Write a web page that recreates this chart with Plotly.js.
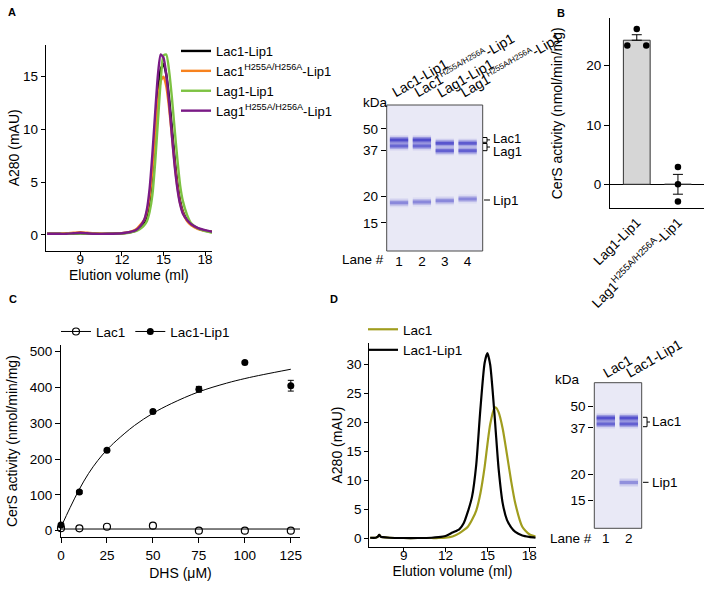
<!DOCTYPE html>
<html><head><meta charset="utf-8">
<script src="https://cdn.plot.ly/plotly-3.0.1.min.js"></script>
<style>html,body{margin:0;padding:0;background:#fff}#chart{width:709px;height:590px}</style>
</head><body><div id="chart"></div>
<script>
// ---------- Panel A: size-exclusion chromatograms ----------
const elutionA = [6.6, 7.5, 8.0, 8.5, 9.0, 9.5, 10.0, 11.0, 12.0, 12.5, 13.0, 13.3, 13.6, 13.8, 14.0, 14.2, 14.4, 14.6, 14.8, 15.0, 15.2, 15.4, 15.6, 15.8, 16.0, 16.2, 16.4, 16.7, 17.0, 17.5, 18.0, 18.5];
const a280LacLip1    = [0.1,0.1,0.1,0.12,0.15,0.12,0.1,0.1,0.15,0.22,0.4,0.7,1.1,1.8,3.3,5.9,9.5,13.2,15.7,16.2,15.2,13.0,10.2,7.3,4.9,3.2,2.2,1.4,1.0,0.6,0.4,0.3];
const a280LacMutLip1 = [0.1,0.12,0.15,0.2,0.25,0.2,0.15,0.1,0.15,0.25,0.5,0.9,1.4,2.2,3.7,6.2,9.4,12.6,14.6,15.0,14.1,12.1,9.5,6.8,4.6,3.0,2.1,1.3,0.9,0.55,0.4,0.3];
const a280LagLip1    = [0.1,0.1,0.1,0.12,0.15,0.12,0.1,0.1,0.12,0.2,0.35,0.55,0.9,1.3,2.2,3.8,6.9,10.8,14.6,17.0,17.1,15.6,13.1,10.1,7.2,4.7,3.2,1.9,1.1,0.6,0.35,0.2];
const a280LagMutLip1 = [0.1,0.1,0.1,0.15,0.2,0.15,0.1,0.1,0.15,0.25,0.45,0.8,1.4,2.4,4.4,7.7,11.6,15.2,17.1,16.8,15.2,12.6,9.5,6.6,4.4,2.9,2.0,1.4,1.0,0.65,0.45,0.3];
const namesA = ['Lac1-Lip1', 'Lac1<sup>H255A/H256A</sup>-Lip1', 'Lag1-Lip1', 'Lag1<sup>H255A/H256A</sup>-Lip1'];

// ---------- Gels (relative mobility, 0 = top of gel) ----------
const markerKDa = ['50', '37', '20', '15'];
const markerRf  = [0.164, 0.311, 0.628, 0.807];
const gelALanes = [1, 2, 3, 4];
const gelALaneLabels = ['Lac1-Lip1', 'Lac1<sup><span style="font-size:8px">H255A/H256A</span></sup>-Lip1', 'Lag1-Lip1', 'Lag1<sup><span style="font-size:8px">H255A/H256A</span></sup>-Lip1'];
const gelABandLane = [1, 1, 1, 2, 2, 2, 3, 3, 3, 4, 4, 4];
const gelABandRf   = [0.240, 0.281, 0.669, 0.240, 0.281, 0.665, 0.262, 0.313, 0.655, 0.262, 0.313, 0.644];
const gelABandInt  = [1.0, 0.75, 0.5, 1.0, 0.75, 0.5, 0.9, 0.8, 0.5, 0.85, 0.8, 0.5];
const gelDLanes = [1, 2];
const gelDLaneLabels = ['Lac1', 'Lac1-Lip1'];
const gelDBandLane = [1, 1, 2, 2, 2];
const gelDBandRf   = [0.242, 0.284, 0.242, 0.284, 0.685];
const gelDBandInt  = [0.95, 0.75, 0.95, 0.8, 0.45];

// ---------- Panel B: CerS activity ----------
const bCategories = ['Lag1-Lip1', 'Lag1<sup>H255A/H256A</sup>-Lip1'];
const bMeans = [24.3, 0.0];
const bSem = [0.93, 1.67];
const bRepLag = [26.2, 23.4, 23.4];
const bRepLagMut = [2.9, 0.0, -2.9];

// ---------- Panel C: kinetics ----------
const dhs = [0, 10, 25, 50, 75, 100, 125];
const actLacLip1 = [16, 108, 225, 333, 395, 470, 405];
const errLacLip1 = [3, 4, 4, 4, 8, 3, 15];
const actLac1 = [7, 6.6, 11, 14, 0, 0, 0];
const fitDhs = [0, 5, 10, 15, 20, 25, 30, 40, 50, 60, 75, 90, 100, 110, 125];
const fitLacLip1 = [10, 65, 116, 160, 196, 226, 251, 294, 328, 355, 388, 412, 425, 436, 451];
const fitLac1Dhs = [0, 130];
const fitLac1 = [4.7, 4.7];

// ---------- Panel D: chromatograms ----------
const elutionD = [6.6, 7.0, 7.15, 7.25, 7.35, 7.5, 8.0, 9.0, 10.0, 11.0, 11.5, 12.0, 12.5, 13.0, 13.3, 13.6, 13.9, 14.2, 14.5, 14.8, 15.0, 15.2, 15.5, 15.6, 15.8, 16.1, 16.4, 16.7, 17.0, 17.5, 18.0, 18.46];
const a280Lac1D    = [0.1,0.1,0.3,0.6,0.3,0.2,0.1,0.05,0.05,0.05,0.05,0.1,0.3,0.9,1.4,2.0,3.2,4.8,7.8,12.3,16.2,19.7,22.5,22.6,21.8,18.9,14.5,9.9,6.0,2.0,0.7,0.3];
const a280LacLip1D = [0.1,0.1,0.3,0.6,0.3,0.2,0.1,0.05,0.05,0.1,0.2,0.4,1.0,1.6,2.6,4.6,7.2,12.7,22.4,30.3,32.0,30.0,21.7,18.4,12.1,6.0,3.2,1.9,1.1,0.5,0.25,0.1];

// ================= styles / layout =================
const FONT = 'Arial, "Liberation Sans", sans-serif';
const W = 709, H = 590;
const PX = v => v / W, PY = v => 1 - v / H;
const colorsA = ['#000000', '#F7821E', '#7DC242', '#7A1A86'];
const olive = '#A09D1E';
const bandRGB = '62,58,198';
const bJitter = [[0, -0.23, 0.23], [0, 0, 0]];

function ax(extra) {
  return Object.assign({showline:true, linecolor:'#000', linewidth:1, ticks:'outside', ticklen:5, tickwidth:1,
    tickcolor:'#000', showgrid:false, zeroline:false, automargin:false, fixedrange:true,
    tickfont:{size:13.5, color:'#000', family:FONT}}, extra);
}
function gelAx(extra) {
  return Object.assign({showline:false, showgrid:false, zeroline:false, automargin:false, fixedrange:true,
    tickfont:{size:13.5, color:'#000', family:FONT}}, extra);
}

const traces = [];
[a280LacLip1, a280LacMutLip1, a280LagLip1, a280LagMutLip1].forEach((ys, i) => {
  traces.push({type:'scatter', mode:'lines', x:elutionA, y:ys, name:namesA[i], xaxis:'x', yaxis:'y',
    line:{color:colorsA[i], width:2.4, shape:'spline', smoothing:0.6}, legend:'legend'});
});

function gelTraces(lanes, rfs, ints, xa, ya) {
  const layers = [{w:9, a:0.16}, {w:6, a:0.38}, {w:3, a:0.8}];
  lanes.forEach((ln, i) => {
    layers.forEach(L => {
      traces.push({type:'scatter', mode:'lines', x:[ln - 0.4, ln + 0.4], y:[rfs[i], rfs[i]], xaxis:xa, yaxis:ya,
        line:{color:`rgba(${bandRGB},${(L.a * ints[i]).toFixed(3)})`, width:L.w}, hoverinfo:'skip', showlegend:false});
    });
  });
}
gelTraces(gelABandLane, gelABandRf, gelABandInt, 'x2', 'y2');
gelTraces(gelDBandLane, gelDBandRf, gelDBandInt, 'x6', 'y6');

traces.push({type:'bar', x:[0, 1], y:bMeans, xaxis:'x3', yaxis:'y3', width:0.65, showlegend:false,
  marker:{color:'#D6D6D6', line:{color:'#333', width:1}},
  error_y:{type:'data', array:bSem, arrayminus:[0, bSem[1]], color:'#000', thickness:1, width:5}});
const bDotX = [], bDotY = [];
[bRepLag, bRepLagMut].forEach((reps, i) => reps.forEach((v, j) => { bDotX.push(i + bJitter[i][j]); bDotY.push(v); }));
traces.push({type:'scatter', mode:'markers', x:bDotX, y:bDotY, xaxis:'x3', yaxis:'y3', showlegend:false,
  marker:{color:'#000', size:6.5}, cliponaxis:false});

traces.push({type:'scatter', mode:'lines', x:fitDhs, y:fitLacLip1, xaxis:'x4', yaxis:'y4', showlegend:false,
  line:{color:'#000', width:1, shape:'spline'}});
traces.push({type:'scatter', mode:'lines', x:fitLac1Dhs, y:fitLac1, xaxis:'x4', yaxis:'y4', showlegend:false,
  line:{color:'#000', width:1}});
traces.push({type:'scatter', mode:'markers', x:dhs, y:actLac1, xaxis:'x4', yaxis:'y4', showlegend:false, cliponaxis:false,
  marker:{symbol:'circle-open', color:'#000', size:7, line:{width:1.2}}});
traces.push({type:'scatter', mode:'markers', x:dhs, y:actLacLip1, xaxis:'x4', yaxis:'y4', showlegend:false, cliponaxis:false,
  marker:{symbol:'circle', color:'#000', size:7},
  error_y:{type:'data', array:errLacLip1, color:'#000', thickness:1, width:3}});
traces.push({type:'scatter', mode:'lines+markers', x:[null], y:[null], xaxis:'x4', yaxis:'y4', name:'Lac1', legend:'legend2',
  marker:{symbol:'circle-open', color:'#000', size:7, line:{width:1.2}}, line:{color:'#000', width:1}});
traces.push({type:'scatter', mode:'lines+markers', x:[null], y:[null], xaxis:'x4', yaxis:'y4', name:'Lac1-Lip1', legend:'legend2',
  marker:{symbol:'circle', color:'#000', size:7}, line:{color:'#000', width:1}});

traces.push({type:'scatter', mode:'lines', x:elutionD, y:a280Lac1D, name:'Lac1', xaxis:'x5', yaxis:'y5', legend:'legend3',
  line:{color:olive, width:2.2, shape:'spline', smoothing:0.6}});
traces.push({type:'scatter', mode:'lines', x:elutionD, y:a280LacLip1D, name:'Lac1-Lip1', xaxis:'x5', yaxis:'y5', legend:'legend3',
  line:{color:'#000', width:2.2, shape:'spline', smoothing:0.6}});

const titleFont = {size:14, color:'#000', family:FONT};

const layout = {
  width:W, height:H, margin:{l:0, r:0, t:0, b:0}, paper_bgcolor:'#fff', plot_bgcolor:'rgba(0,0,0,0)',
  font:{family:FONT, color:'#000', size:13.5}, showlegend:true,
  xaxis: ax({domain:[PX(45.7), PX(212)], anchor:'y', range:[6.5, 18.5], tickvals:[9, 12, 15, 18], ticklen:4,
    ticklabelstandoff:-8, title:{text:'Elution volume (ml)', font:titleFont, standoff:0}}),
  yaxis: ax({domain:[PY(250.7), PY(45)], anchor:'x', range:[-1.5, 18], tickvals:[0, 5, 10, 15], ticklen:4,
    title:{text:'A280 (mAU)', font:titleFont, standoff:0}}),
  xaxis2: gelAx({domain:[PX(386.7), PX(482.7)], anchor:'y2', range:[0.46, 4.66], tickvals:gelALanes,
    ticktext:gelALanes.map(String), ticks:''}),
  yaxis2: gelAx({domain:[PY(251), PY(105)], anchor:'x2', range:[1, 0], tickvals:markerRf, ticktext:markerKDa,
    ticks:'outside', ticklen:5, tickcolor:'#000'}),
  xaxis3: ax({domain:[PX(610), PX(704.3)], anchor:'y3', range:[-0.65, 1.64], tickvals:[0, 1], ticktext:bCategories,
    ticks:'', tickangle:-45}),
  yaxis3: ax({domain:[PY(208.3), PY(18.3)], anchor:'x3', range:[-4.05, 28], tickvals:[0, 10, 20],
    zeroline:true, zerolinecolor:'#000', zerolinewidth:1,
    title:{text:'CerS activity (nmol/min/mg)', font:titleFont, standoff:20}}),
  xaxis4: ax({domain:[PX(61), PX(300)], anchor:'y4', range:[0, 130], tickvals:[0, 25, 50, 75, 100, 125],
    title:{text:'DHS (μM)', font:titleFont, standoff:6}}),
  yaxis4: ax({domain:[PY(537.3), PY(345)], anchor:'x4', range:[-18.4, 518.7], tickvals:[0, 100, 200, 300, 400, 500],
    title:{text:'CerS activity (nmol/min/mg)', font:titleFont, standoff:8}}),
  xaxis5: ax({domain:[PX(369.3), PX(535.7)], anchor:'y5', range:[6.54, 18.46], tickvals:[9, 12, 15, 18], ticklen:4,
    ticklabelstandoff:-8, title:{text:'Elution volume (ml)', font:titleFont, standoff:0}}),
  yaxis5: ax({domain:[PY(546.7), PY(343.3)], anchor:'x5', range:[-1.45, 33.7], tickvals:[0, 5, 10, 15, 20, 25, 30], ticklen:4,
    title:{text:'A280 (mAU)', font:titleFont, standoff:0}}),
  xaxis6: gelAx({domain:[PX(594.3), PX(641.7)], anchor:'y6', range:[0.5, 2.56], tickvals:gelDLanes,
    ticktext:gelDLanes.map(String), ticks:''}),
  yaxis6: gelAx({domain:[PY(528.3), PY(382.7)], anchor:'x6', range:[1, 0], tickvals:markerRf, ticktext:markerKDa,
    ticks:'outside', ticklen:5, tickcolor:'#000'}),
  legend: {x:PX(176), y:PY(36), xanchor:'left', yanchor:'top', bgcolor:'rgba(0,0,0,0)', itemwidth:30,
    font:{size:13, family:FONT, color:'#000'}},
  legend2: {x:PX(56), y:PY(331.7), xanchor:'left', yanchor:'middle', orientation:'h', bgcolor:'rgba(0,0,0,0)', itemwidth:30,
    font:{size:13.5, family:FONT, color:'#000'}},
  legend3: {x:PX(363), y:PY(314), xanchor:'left', yanchor:'top', bgcolor:'rgba(0,0,0,0)', itemwidth:30,
    font:{size:13.5, family:FONT, color:'#000'}},
  shapes: [], annotations: []
};

[['x2','y2'], ['x6','y6']].forEach(([xa, ya]) => {
  layout.shapes.push({type:'rect', xref:xa + ' domain', yref:ya + ' domain', x0:0, x1:1, y0:0, y1:1,
    fillcolor:'#E9E9F6', line:{color:'#4a4a4a', width:1}, layer:'below'});
});
function pathPx(pts) { return 'M ' + pts.map(p => PX(p[0]).toFixed(4) + ',' + PY(p[1]).toFixed(4)).join(' L '); }
function deco(pts) { layout.shapes.push({type:'path', xref:'paper', yref:'paper', path:pathPx(pts), line:{color:'#000', width:1}}); }
deco([[483,137.5],[487,137.5],[487,142.3],[483,142.3]]);
deco([[487,139.9],[490,139.9]]);
deco([[483,143.5],[487,143.5],[487,150.7],[483,150.7]]);
deco([[487,147],[490,147]]);
deco([[484,200],[490,200]]);
deco([[643,417.3],[647,417.3],[647,426.7],[643,426.7]]);
deco([[647,422],[650,422]]);
deco([[643,482.3],[648.5,482.3]]);

function ann(text, x, y, opts) {
  layout.annotations.push(Object.assign({text:text, x:PX(x), y:PY(y), xref:'paper', yref:'paper', showarrow:false,
    xanchor:'center', yanchor:'middle', font:{size:13.5, family:FONT, color:'#000'}}, opts || {}));
}
ann('<b>A</b>', 11.7, 12, {font:{size:11, family:FONT, color:'#000'}});
ann('<b>B</b>', 561, 13.3, {font:{size:11, family:FONT, color:'#000'}});
ann('<b>C</b>', 12.5, 299, {font:{size:11, family:FONT, color:'#000'}});
ann('<b>D</b>', 334, 299, {font:{size:11, family:FONT, color:'#000'}});
ann('kDa', 375, 102.7);
ann('Lane #', 363.3, 259.8);
ann('Lac1', 490.5, 138, {xanchor:'left', font:{size:13, family:FONT, color:'#000'}});
ann('Lag1', 490.5, 152, {xanchor:'left', font:{size:13, family:FONT, color:'#000'}});
ann('Lip1', 491, 200, {xanchor:'left'});
ann('kDa', 567, 379.3);
ann('Lane #', 571, 538.8);
ann('Lac1', 650, 421.7, {xanchor:'left'});
ann('Lip1', 650, 482.3, {xanchor:'left'});
gelALanes.forEach((ln, i) => {
  layout.annotations.push({text:gelALaneLabels[i], xref:'x2', x:ln, xshift:-13, yref:'paper', y:PY(103),
    xanchor:'left', yanchor:'bottom', textangle:-30, showarrow:false, font:{size:14, family:FONT, color:'#000'}});
});
gelDLanes.forEach((ln, i) => {
  layout.annotations.push({text:gelDLaneLabels[i], xref:'x6', x:ln, xshift:-8, yref:'paper', y:PY(383),
    xanchor:'left', yanchor:'bottom', textangle:-30, showarrow:false, font:{size:14, family:FONT, color:'#000'}});
});

Plotly.newPlot('chart', traces, layout, {staticPlot:true, displayModeBar:false});
</script>
</body></html>
